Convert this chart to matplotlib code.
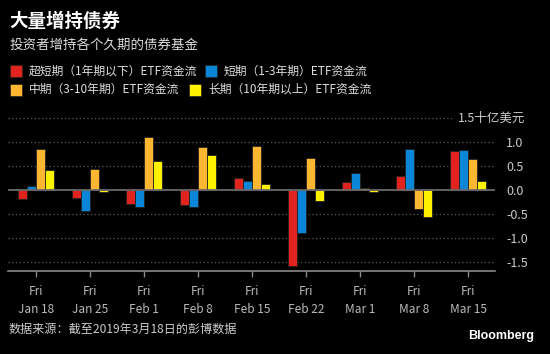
import numpy as np
import matplotlib
matplotlib.use('Agg')
import matplotlib.pyplot as plt
from matplotlib.patches import Rectangle

plt.rcParams['font.family'] = ['Noto Sans CJK SC', 'DejaVu Sans']

dates = ['Jan 18', 'Jan 25', 'Feb 1', 'Feb 8', 'Feb 15', 'Feb 22', 'Mar 1', 'Mar 8', 'Mar 15']
ultra_short = [-0.19, -0.18, -0.29, -0.32, 0.24, -1.58, 0.17, 0.28, 0.80]
short = [0.08, -0.44, -0.36, -0.35, 0.19, -0.90, 0.36, 0.85, 0.82]
mid = [0.84, 0.43, 1.09, 0.89, 0.91, 0.66, 0.04, -0.40, 0.64]
long_ = [0.41, -0.04, 0.61, 0.73, 0.13, -0.24, -0.04, -0.57, 0.18]

series = [ultra_short, short, mid, long_]
colors = ['#e0231f', '#0a86d8', '#ffb630', '#fff200']
labels = ['超短期（1年期以下）ETF资金流', '短期（1-3年期）ETF资金流',
          '中期（3-10年期）ETF资金流', '长期（10年期以上）ETF资金流']
yticks = [-1.5, -1.0, -0.5, 0.0, 0.5, 1.0]

W, H = 550, 354
fig = plt.figure(figsize=(5.5, 3.54), dpi=100, facecolor='black')
ax = fig.add_axes([8 / W, 1 - 271 / H, 487 / W, 159 / H], facecolor='black')

x = np.arange(len(dates))
bw = 0.17
for i, (vals, c) in enumerate(zip(series, colors)):
    ax.bar(x + (i - 1.5) * bw, vals, bw, color=c, edgecolor='#222222',
           linewidth=0.6, zorder=3)

ax.set_xlim(-0.52, 8.5)
ax.set_ylim(-1.69, 1.62)

# dotted grid, the top line stops short to leave room for the unit label
for v in yticks:
    if v == 0:
        continue
    ax.axhline(v, color='#5a5a5a', linestyle=(0, (1, 2)), linewidth=0.9, zorder=1)
ax.axhline(1.5, xmax=(453 - 8) / 487, color='#5a5a5a', linestyle=(0, (1, 2)),
           linewidth=0.9, zorder=1)
ax.axhline(0, color='#6a6a6a', linewidth=1.3, zorder=4)

for s in ['top', 'left', 'right']:
    ax.spines[s].set_visible(False)
ax.spines['bottom'].set_color('#888888')
ax.spines['bottom'].set_linewidth(1.2)

ax.yaxis.tick_right()
ax.set_yticks(yticks)
ax.set_yticklabels([f'{v:.1f}' for v in yticks])
ax.tick_params(axis='y', length=0, pad=8, labelsize=9, labelcolor='#cccccc')
ax.text(525 / W, 1 - 118 / H, '1.5十亿美元', transform=fig.transFigure,
        ha='right', va='center', fontsize=9, color='#cccccc')

ax.set_xticks(x)
ax.set_xticklabels(['Fri\n' + d for d in dates], linespacing=1.5)
ax.tick_params(axis='x', length=4, width=1, color='#888888', pad=6,
               labelsize=8.5, labelcolor='#bbbbbb')

fig.text(9 / W, 1 - 21 / H, '大量增持债券', fontsize=13.3, fontweight='bold',
         color='white', va='center')
fig.text(10 / W, 1 - 45 / H, '投资者增持各个久期的债券基金', fontsize=9.7,
         color='#dddddd', va='center')

leg_pos = [(10, 71), (205, 71), (10, 89.5), (189, 89.5)]
for (lx, ly), c, lab in zip(leg_pos, colors, labels):
    fig.patches.append(Rectangle((lx / W, 1 - (ly + 6) / H), 12 / W, 12 / H,
                                 transform=fig.transFigure, facecolor=c,
                                 edgecolor='#222222', linewidth=0.5))
    fig.text((lx + 19) / W, 1 - ly / H, lab, fontsize=8.5, color='#dddddd',
             va='center')

fig.text(9 / W, 1 - 329 / H, '数据来源：截至2019年3月18日的彭博数据', fontsize=8.7,
         color='#cccccc', va='center')
fig.text(534 / W, 1 - 336 / H, 'Bloomberg', fontsize=9, fontweight='bold',
         color='white', va='center', ha='right', family=['Liberation Sans', 'DejaVu Sans'])

fig.savefig('out.png', dpi=100, facecolor='black')
